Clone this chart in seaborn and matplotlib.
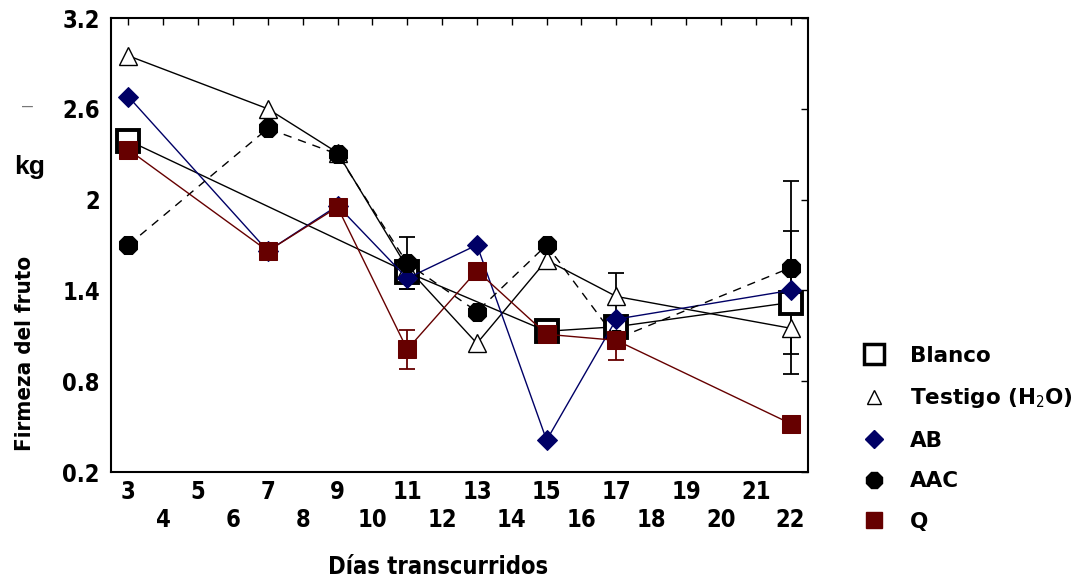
import matplotlib
matplotlib.use("Agg")
import matplotlib.pyplot as plt
from matplotlib.lines import Line2D
from matplotlib.ticker import MultipleLocator
import seaborn as sns
import pandas as pd
import numpy as np

# ---- data ----
days_blanco = [3, 11, 15, 17, 22]
blanco = [2.39, 1.52, 1.13, 1.16, 1.32]

days = [3, 7, 9, 11, 13, 15, 17, 22]
testigo = [2.95, 2.60, 2.31, 1.55, 1.05, 1.60, 1.36, 1.15]
ab = [2.68, 1.66, 1.96, 1.48, 1.70, 0.41, 1.21, 1.40]
aac = [1.70, 2.47, 2.30, 1.58, 1.26, 1.70, 1.08, 1.55]
q = [2.33, 1.66, 1.95, 1.01, 1.53, 1.11, 1.07, 0.52]

# error bars
err_days_aac = [11, 22]
err_aac = [0.17, 0.57]
err_days_ab = [11]
err_ab = [0.07]
err_days_blanco = [22]
err_blanco = [0.47]
err_days_testigo = [17]
err_testigo = [0.155]
err_days_q = [11, 17]
err_q = [0.13, 0.13]

xtick_days = list(range(3, 23))
ytick_vals = [0.2, 0.8, 1.4, 2.0, 2.6, 3.2]
ytick_labels = ["0.2", "0.8", "1.4", "2", "2.6", "3.2"]

sns.set_theme(style="white")
plt.rcParams["font.family"] = ["DejaVu Sans", "Liberation Sans"]
plt.rcParams["font.stretch"] = "condensed"
plt.rcParams["text.color"] = "black"
plt.rcParams["xtick.color"] = "black"
plt.rcParams["ytick.color"] = "black"

NAVY = "#000066"
MAROON = "#660000"

fig = plt.figure(figsize=(10.85, 5.8), dpi=100)
ax = fig.add_axes([111 / 1085, 1 - 472 / 580, (808 - 111) / 1085, (472 - 18) / 580])

def series(x, y, name):
    return pd.DataFrame({"dia": x, "firmeza": y, "grupo": name})

specs = [
    ("Blanco", days_blanco, blanco, dict(color="black", marker="s", markersize=16,
                                          markerfacecolor="white", markeredgecolor="black",
                                          markeredgewidth=2.8, linestyle="-")),
    ("Testigo", days, testigo, dict(color="black", marker="^", markersize=13,
                                    markerfacecolor="white", markeredgecolor="black",
                                    markeredgewidth=1.0, linestyle="-")),
    ("AB", days, ab, dict(color=NAVY, marker="D", markersize=10,
                          markerfacecolor=NAVY, markeredgecolor=NAVY, linestyle="-")),
    ("AAC", days, aac, dict(color="black", marker="8", markersize=14,
                            markerfacecolor="black", markeredgecolor="black", linestyle=(0, (6, 5)))),
    ("Q", days, q, dict(color=MAROON, marker="s", markersize=13,
                        markerfacecolor=MAROON, markeredgecolor=MAROON, linestyle="-")),
]

for i, (name, x, y, kw) in enumerate(specs):
    df = series(x, y, name)
    sns.lineplot(data=df, x="dia", y="firmeza", ax=ax, linewidth=1.0, zorder=3 + i,
                 legend=False, **kw)

for dx, xs, vals, errs, col in [
    (err_days_aac, days, aac, err_aac, "black"),
    (err_days_ab, days, ab, err_ab, "black"),
    (err_days_blanco, days_blanco, blanco, err_blanco, "black"),
    (err_days_testigo, days, testigo, err_testigo, "black"),
    (err_days_q, days, q, err_q, MAROON),
]:
    yy = [vals[xs.index(d)] for d in dx]
    ax.errorbar(dx, yy, yerr=errs, fmt="none", ecolor=col, elinewidth=1.3,
                capsize=6, capthick=1.3, zorder=2)

TICKFS = 17
ax.set_xlim(2.5, 22.5)
ax.set_ylim(0.2, 3.2)
ax.set_xticks(xtick_days)
ax.set_xticklabels([str(d) if d % 2 else "\n" + str(d) for d in xtick_days],
                   fontsize=TICKFS, fontweight="bold", linespacing=1.2)
ax.set_yticks(ytick_vals)
ax.set_yticklabels(ytick_labels, fontsize=TICKFS, fontweight="bold")
ax.yaxis.set_minor_locator(MultipleLocator(0.3))
ax.tick_params(axis="both", which="both", direction="in", top=True, right=True,
               length=5, width=1, color="black")
ax.tick_params(axis="y", which="minor", length=3, right=False)
ax.tick_params(axis="y", which="both", pad=8)
ax.tick_params(axis="x", which="both", pad=6)
ax.set_xlabel("")
ax.set_ylabel("")
for s in ax.spines.values():
    s.set_color("black")
    s.set_linewidth(1.5)

fig.text(438 / 1085, 1 - 567 / 580, "Días transcurridos", ha="center", va="center",
         fontsize=TICKFS, fontweight="bold")
fig.text(25 / 1085, 1 - 353 / 580, "Firmeza del fruto", ha="center", va="center",
         rotation=90, fontsize=16, fontweight="bold")
fig.text(30 / 1085, 1 - 167 / 580, "kg", ha="center", va="center",
         fontsize=19, fontweight="bold", family=["Liberation Sans", "DejaVu Sans"],
         fontstretch="normal")
fig.text(28 / 1085, 1 - 106 / 580, "–", ha="center", va="center", fontsize=14,
         color="#777777", family=["Liberation Sans", "DejaVu Sans"], fontstretch="normal")

handles = [
    Line2D([], [], linestyle="none", marker="s", markersize=15, markerfacecolor="white",
           markeredgecolor="black", markeredgewidth=2.5),
    Line2D([], [], linestyle="none", marker="^", markersize=10, markerfacecolor="white",
           markeredgecolor="black", markeredgewidth=1.0),
    Line2D([], [], linestyle="none", marker="D", markersize=9, markerfacecolor=NAVY,
           markeredgecolor=NAVY),
    Line2D([], [], linestyle="none", marker="8", markersize=13, markerfacecolor="black",
           markeredgecolor="black"),
    Line2D([], [], linestyle="none", marker="s", markersize=12, markerfacecolor=MAROON,
           markeredgecolor=MAROON),
]
labels = ["Blanco", "Testigo (H$_2$O)", "AB", "AAC", "Q"]
fig.legend(handles, labels, loc="upper left", bbox_to_anchor=(852 / 1085, 1 - 346 / 580),
           frameon=False, prop={"size": 15.5, "weight": "bold", "stretch": "normal"},
           labelspacing=0.95, handletextpad=0.7, borderaxespad=0, borderpad=0)

fig.savefig("out.png", dpi=100)
